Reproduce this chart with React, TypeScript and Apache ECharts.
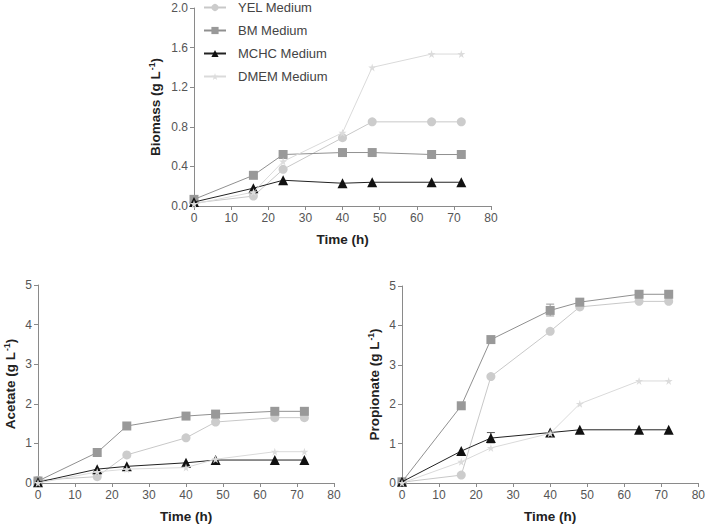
import React, { useEffect, useRef } from "react";
import * as echarts from "echarts";

const times = [0, 16, 24, 40, 48, 64, 72];
const seriesNames = ["YEL Medium", "BM Medium", "MCHC Medium", "DMEM Medium"];

// Biomass (g/L)
const biomassYEL = [0.03, 0.1, 0.37, 0.69, 0.85, 0.85, 0.85];
const biomassBM = [0.067, 0.31, 0.52, 0.54, 0.54, 0.52, 0.52];
const biomassMCHC = [0.04, 0.18, 0.26, 0.23, 0.24, 0.24, 0.24];
const biomassDMEM = [0.02, 0.14, 0.45, 0.74, 1.4, 1.535, 1.535];

// Acetate (g/L)
const acetateYEL = [0.07, 0.16, 0.71, 1.14, 1.54, 1.65, 1.65];
const acetateBM = [0.05, 0.77, 1.44, 1.69, 1.74, 1.81, 1.81];
const acetateMCHC = [0.02, 0.35, 0.42, 0.51, 0.58, 0.58, 0.58];
const acetateDMEM = [0.0, 0.28, 0.35, 0.39, 0.6, 0.79, 0.79];

// Propionate (g/L)
const propYEL = [0.02, 0.2, 2.7, 3.85, 4.47, 4.61, 4.61];
const propBM = [0.03, 1.96, 3.64, 4.38, 4.59, 4.79, 4.79];
const propMCHC = [0.03, 0.81, 1.14, 1.28, 1.35, 1.35, 1.35];
const propDMEM = [0.0, 0.54, 0.89, 1.26, 2.01, 2.59, 2.59];

// Error bars on propionate panel: [time, low, high]
const propErrBM = [[40, 4.24, 4.54]];
const propErrMCHC = [[24, 1.02, 1.28]];

const biomassTicks = ["0.0", "0.4", "0.8", "1.2", "1.6", "2.0"];

const colors = ["#cccccc", "#999999", "#111111", "#dcdcdc"];
const lineColors = ["#c8c8c8", "#909090", "#222222", "#dadada"];
const STAR =
  "path://M50,0 L61,35 L98,35 L68,57 L79,91 L50,70 L21,91 L32,57 L2,35 L39,35 Z";
const symbols = ["circle", "rect", "triangle", STAR];
const symbolSizes = [9, 9, 10, 8];

const FONT = "Liberation Sans, Arial, sans-serif";

function xAxis(gridIndex: number) {
  return {
    type: "value",
    gridIndex,
    min: 0,
    max: 80,
    interval: 10,
    name: "Time (h)",
    nameLocation: "middle",
    nameGap: 26,
    nameTextStyle: { fontFamily: FONT, fontSize: 13.5, fontWeight: "bold", color: "#222" },
    axisLine: { show: true, onZero: false, lineStyle: { color: "#8a8a8a", width: 1 } },
    axisTick: { show: true, length: 4, lineStyle: { color: "#8a8a8a" } },
    axisLabel: { fontFamily: FONT, fontSize: 12, color: "#555", margin: 6 },
    splitLine: { show: false },
  };
}

function yAxis(gridIndex: number, label: string, max: number, interval: number, gap: number, fmt?: (v: number) => string) {
  return {
    type: "value",
    gridIndex,
    min: 0,
    max,
    interval,
    name: label + " (g L{sup|-1})",
    nameLocation: "middle",
    nameGap: gap,
    nameRotate: 90,
    nameTextStyle: {
      fontFamily: FONT,
      fontSize: 13.5,
      fontWeight: "bold",
      color: "#222",
      lineHeight: 16,
      rich: {
        sup: { fontFamily: FONT, fontSize: 8.5, fontWeight: "bold", color: "#222", verticalAlign: "top", lineHeight: 16, padding: [0, 0, 8, 1] },
      },
    },
    axisLine: { show: true, lineStyle: { color: "#8a8a8a", width: 1 } },
    axisTick: { show: true, length: 4, lineStyle: { color: "#8a8a8a" } },
    axisLabel: { fontFamily: FONT, fontSize: 12, color: "#555", margin: 6, formatter: fmt },
    splitLine: { show: false },
  };
}

function lineSeries(i: number, data: number[], gridIdx: number) {
  return {
    type: "line",
    name: seriesNames[i],
    xAxisIndex: gridIdx,
    yAxisIndex: gridIdx,
    data: times.map((t, k) => [t, data[k]]),
    symbol: symbols[i],
    symbolSize: symbolSizes[i],
    showAllSymbol: true,
    itemStyle: { color: colors[i] },
    lineStyle: { color: lineColors[i], width: 1 },
    z: 2 + i,
  };
}

function errSeries(data: number[][], color: string, gridIdx: number) {
  return {
    type: "custom",
    xAxisIndex: gridIdx,
    yAxisIndex: gridIdx,
    data,
    z: 1,
    renderItem: (params: any, api: any) => {
      const x = api.value(0);
      const lo = api.coord([x, api.value(1)]);
      const hi = api.coord([x, api.value(2)]);
      const w = 4;
      const st = { stroke: color, lineWidth: 1 };
      return {
        type: "group",
        children: [
          { type: "line", shape: { x1: lo[0], y1: lo[1], x2: hi[0], y2: hi[1] }, style: st },
          { type: "line", shape: { x1: hi[0] - w, y1: hi[1], x2: hi[0] + w, y2: hi[1] }, style: st },
          { type: "line", shape: { x1: lo[0] - w, y1: lo[1], x2: lo[0] + w, y2: lo[1] }, style: st },
        ],
      };
    },
  };
}

export default function App() {
  const ref = useRef<HTMLDivElement>(null);
  useEffect(() => {
    if (!ref.current) return;
    const chart = echarts.init(ref.current, undefined, { renderer: "svg" });
    const panels = [
      [biomassYEL, biomassBM, biomassMCHC, biomassDMEM],
      [acetateYEL, acetateBM, acetateMCHC, acetateDMEM],
      [propYEL, propBM, propMCHC, propDMEM],
    ];
    const series: any[] = [];
    panels.forEach((p, g) => p.forEach((d, i) => series.push(lineSeries(i, d, g))));
    series.push(errSeries(propErrBM, "#999999", 2));
    series.push(errSeries(propErrMCHC, "#555555", 2));

    chart.setOption({
      animation: false,
      backgroundColor: "#ffffff",
      textStyle: { fontFamily: FONT },
      grid: [
        { left: 194, top: 8, width: 297, height: 198 },
        { left: 38, top: 285, width: 296, height: 198 },
        { left: 402, top: 286, width: 297, height: 197 },
      ],
      xAxis: [xAxis(0), xAxis(1), xAxis(2)],
      yAxis: [
        yAxis(0, "Biomass", 2, 0.4, 31, (v: number) => biomassTicks[Math.round(v / 0.4)] ?? v.toFixed(1)),
        yAxis(1, "Acetate", 5, 1, 20),
        yAxis(2, "Propionate", 5, 1, 20),
      ],
      legend: {
        orient: "vertical",
        left: 203,
        top: 0,
        padding: 0,
        itemWidth: 22,
        itemHeight: 9,
        itemGap: 8,
        data: seriesNames,
        textStyle: { fontFamily: FONT, fontSize: 13, color: "#444", padding: [0, 0, 0, 7], lineHeight: 15 },
      },
      series,
    });
    return () => chart.dispose();
  }, []);
  return (
    <div
      ref={ref}
      style={{ position: "fixed", left: 0, top: 0, width: 708, height: 528, background: "#fff" }}
    />
  );
}
